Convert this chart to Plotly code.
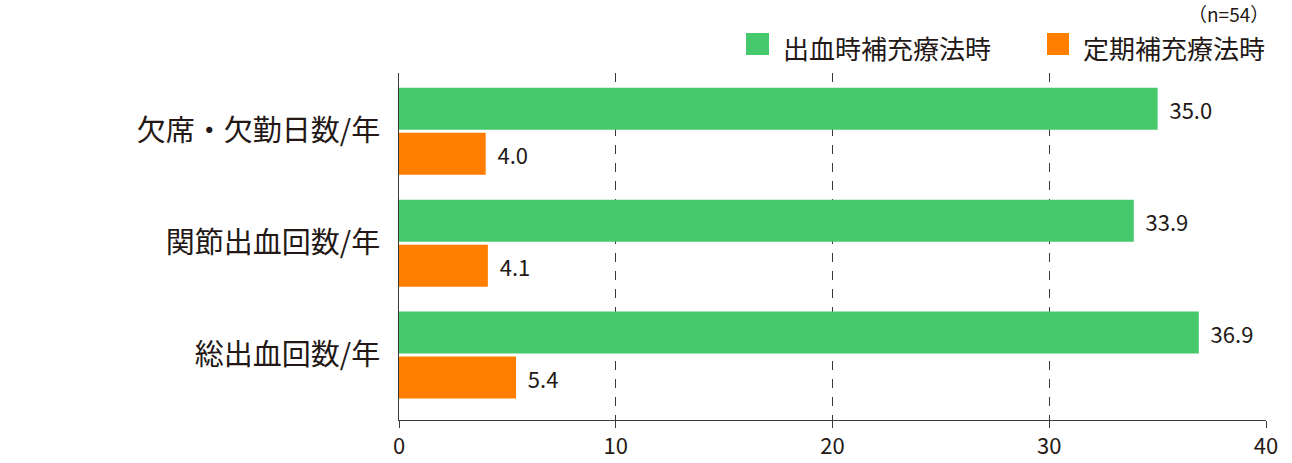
import plotly.graph_objects as go

categories = ["欠席・欠勤日数/年", "関節出血回数/年", "総出血回数/年"]
on_demand = [35.0, 33.9, 36.9]
prophylaxis = [4.0, 4.1, 5.4]
series_names = ["出血時補充療法時", "定期補充療法時"]
tick_vals = [0, 10, 20, 30, 40]

GREEN = "#46C86C"
ORANGE = "#FF7E00"
TXT = "#231815"
AX = "#3a3a3a"
FONT = "Noto Sans CJK JP"

L, R, T, B = 399, 26, 73, 43
W, H = 1292, 463
PW, PH = W - L - R, H - T - B

def px(x):
    return (x - L) / PW

def py(y):
    return (H - B - y) / PH

fig = go.Figure()
for name, vals, col in [(series_names[0], on_demand, GREEN), (series_names[1], prophylaxis, ORANGE)]:
    fig.add_trace(go.Bar(
        y=categories, x=vals, orientation="h", name=name,
        marker=dict(color=col, line=dict(width=0)),
        text=[f"\u2009\u2009{v:.1f}" for v in vals], textposition="outside",
        textfont=dict(size=22, color=TXT, family=FONT),
        cliponaxis=False, showlegend=False,
    ))

shapes = []
annotations = []
legend_items = [(series_names[0], GREEN, 746, 769, 781), (series_names[1], ORANGE, 1047, 1069, 1081)]
for name, col, x0, x1, tx in legend_items:
    shapes.append(dict(type="rect", xref="paper", yref="paper",
                       x0=px(x0), x1=px(x1), y0=py(55), y1=py(33),
                       fillcolor=col, line=dict(width=0), layer="above"))
    annotations.append(dict(text=name, xref="paper", yref="paper", x=px(tx), y=py(47),
                            xanchor="left", yanchor="middle", showarrow=False,
                            font=dict(size=26, color=TXT, family=FONT)))
annotations.append(dict(text="（n=54）", xref="paper", yref="paper", x=px(1271), y=py(14),
                        xanchor="right", yanchor="middle", showarrow=False,
                        font=dict(size=19, color=TXT, family=FONT)))

fig.update_layout(
    width=W, height=H,
    margin=dict(l=L, r=R, t=T, b=B, autoexpand=False),
    paper_bgcolor="white", plot_bgcolor="white",
    barmode="group", bargap=0.196, bargroupgap=0.067,
    font=dict(family=FONT, color=TXT),
    showlegend=False,
    shapes=shapes, annotations=annotations,
)
fig.update_xaxes(range=[0, 40], tickvals=tick_vals, showgrid=True,
                 gridcolor=AX, griddash="dash", gridwidth=1,
                 showline=True, linecolor=AX, linewidth=1,
                 ticks="outside", ticklen=7, tickcolor=AX,
                 tickfont=dict(size=22, color=TXT, family=FONT), zeroline=False)
fig.update_yaxes(type="category", range=[2.58, -0.52], showline=True,
                 linecolor=AX, linewidth=1, showgrid=False,
                 ticks="", ticklabelstandoff=12,
                 tickfont=dict(size=29, color=TXT, family=FONT))

fig.write_html("out.html", config={"displayModeBar": False},
               post_script="document.body.style.margin='0';document.body.style.padding='0';")
